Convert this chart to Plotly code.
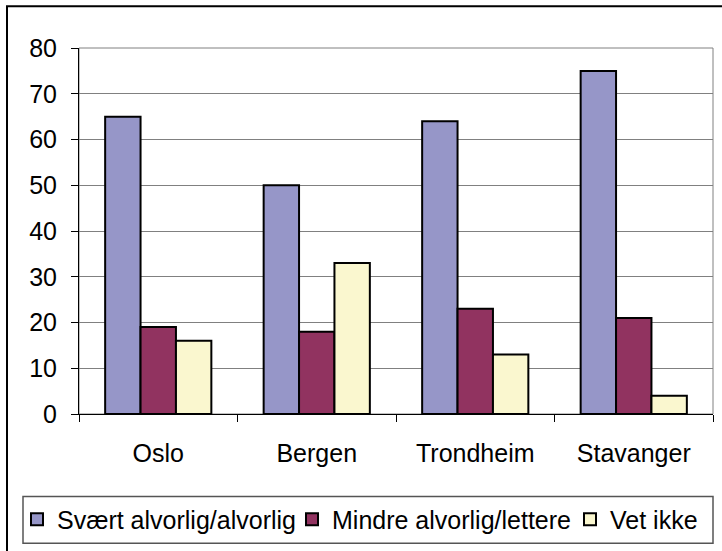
import plotly.graph_objects as go

categories = ["Oslo", "Bergen", "Trondheim", "Stavanger"]
series_names = ["Svært alvorlig/alvorlig", "Mindre alvorlig/lettere", "Vet ikke"]
series_values = {
    "Svært alvorlig/alvorlig": [65, 50, 64, 75],
    "Mindre alvorlig/lettere": [19, 18, 23, 21],
    "Vet ikke": [16, 33, 13, 4],
}
series_colors = ["#9696C8", "#913360", "#FAF7CF"]
y_ticks = [0, 10, 20, 30, 40, 50, 60, 70, 80]

W, H = 722, 551
L, R, T, B = 79, 9, 48, 135
PW, PH = W - L - R, H - T - B

def px_x(x):
    return (x - L) / PW

def px_y(y):
    return (H - B - y) / PH

FONT = "Arial, Liberation Sans, sans-serif"
FS = 25

fig = go.Figure()
entry_widths = [230, 233, 100]
for name, color, ew in zip(series_names, series_colors, entry_widths):
    fig.add_trace(go.Bar(
        x=categories, y=series_values[name], name=name,
        marker=dict(color=color, line=dict(color="black", width=2)),
        legendwidth=ew,
    ))

shapes = [
    dict(type="rect", xref="paper", yref="paper", x0=0, x1=1, y0=0, y1=1,
         line=dict(color="#808080", width=1), layer="below"),
    dict(type="rect", xref="paper", yref="paper",
         x0=px_x(7), x1=px_x(740), y0=px_y(570), y1=px_y(6),
         line=dict(color="black", width=2), layer="below"),
    dict(type="rect", xref="paper", yref="paper",
         x0=px_x(23), x1=px_x(713), y0=px_y(546), y1=px_y(499),
         line=dict(color="#555555", width=1.5)),
]

fig.update_layout(
    width=W, height=H,
    margin=dict(l=L, r=R, t=T, b=B, pad=0),
    paper_bgcolor="white", plot_bgcolor="white",
    font=dict(family=FONT, size=FS, color="black"),
    barmode="group", bargap=0.33, bargroupgap=0,
    showlegend=True,
    legend=dict(orientation="h", x=px_x(17), xanchor="left",
                y=px_y(522), yanchor="middle",
                bgcolor="rgba(0,0,0,0)", borderwidth=0,
                font=dict(family=FONT, size=FS, color="black"),
                itemwidth=30, traceorder="normal"),
    shapes=shapes,
)
fig.update_xaxes(
    type="category", showgrid=False, showline=True, linecolor="black", linewidth=1,
    ticks="outside", tickson="boundaries", ticklen=7, tickcolor="black", tickwidth=1,
    tickfont=dict(family=FONT, size=FS), ticklabelstandoff=17,
)
fig.update_yaxes(
    range=[0, 80], tickvals=y_ticks, showgrid=True, gridcolor="#808080", gridwidth=1,
    showline=True, linecolor="black", linewidth=1, zeroline=False,
    ticks="outside", ticklen=7, tickcolor="black", tickwidth=1,
    tickfont=dict(family=FONT, size=FS), ticklabelstandoff=9,
)

fig.write_html("out.html", config={"displayModeBar": False},
               post_script="document.body.style.margin='0';")
